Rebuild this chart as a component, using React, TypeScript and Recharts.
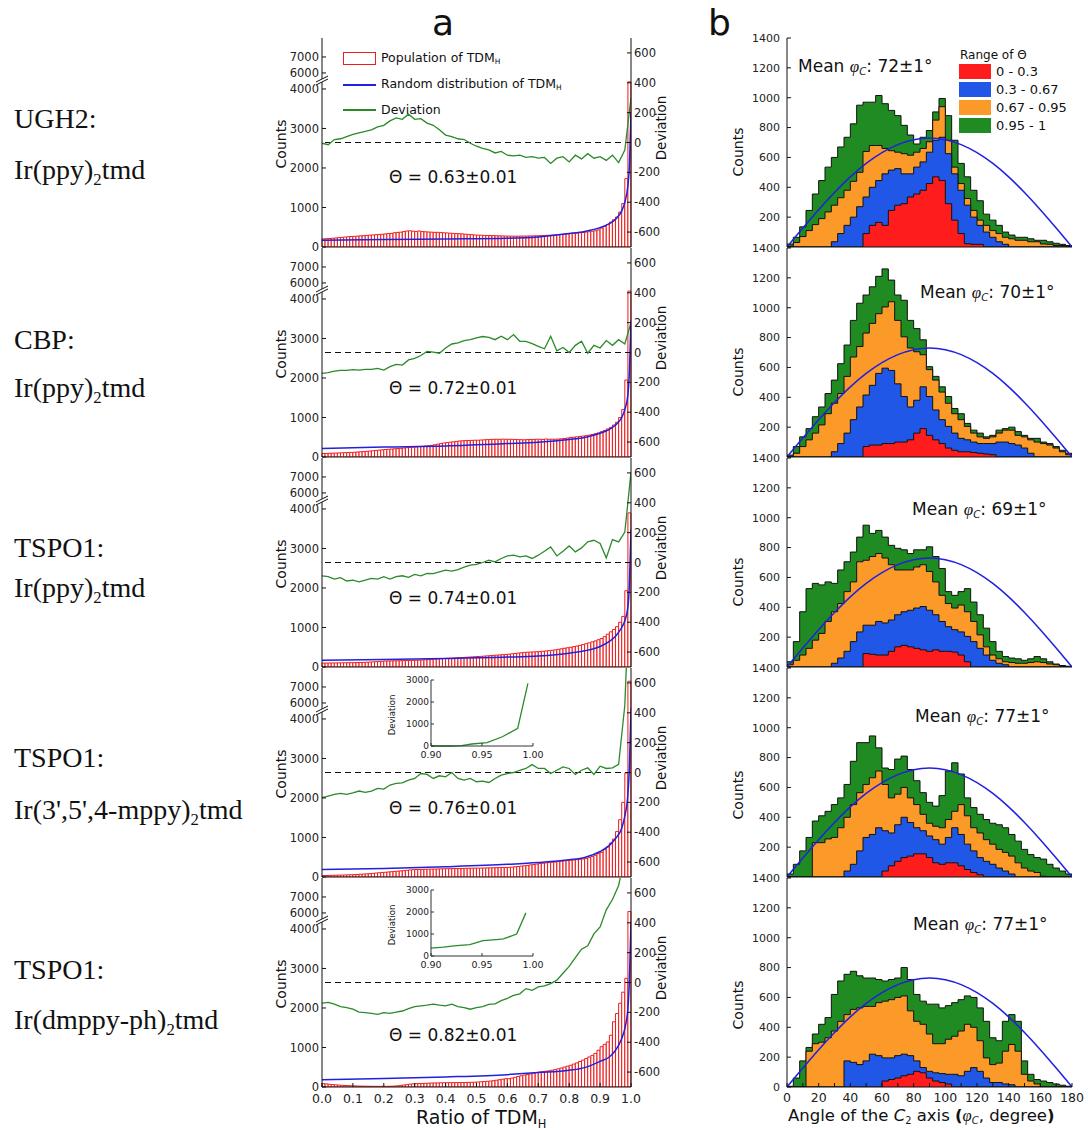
import React from "react";
import {
  ComposedChart,
  LineChart,
  Bar,
  Line,
  Area,
  XAxis,
  YAxis,
  ReferenceLine,
} from "recharts";

const FONT = "'DejaVu Sans', sans-serif";
const SERIF = "'Liberation Serif', 'Times New Roman', serif";

// ---- panel a: axes ----
const ratioTicks = [0, 0.1, 0.2, 0.3, 0.4, 0.5, 0.6, 0.7, 0.8, 0.9, 1.0];
const countTickValues = [0, 1000, 2000, 3000, 4000, 6000, 7000];
const devTicks = [-600, -400, -200, 0, 200, 400, 600];
const blueX = [0, 0.2, 0.4, 0.6, 0.7, 0.8, 0.85, 0.9, 0.93, 0.95, 0.97, 0.98, 0.99, 0.995, 1.0];

// ---- panel a: population of TDM_H (100 bins of 0.01) ----
const bars1 = [
  205, 210, 215, 222, 230, 238, 245, 252, 260, 265,
  270, 276, 282, 288, 294, 300, 306, 312, 318, 324,
  330, 340, 345, 360, 370, 375, 390, 405, 410, 400,
  395, 405, 390, 385, 380, 375, 370, 372, 365, 360,
  355, 350, 345, 340, 335, 330, 325, 318, 312, 305,
  300, 298, 295, 292, 290, 288, 285, 282, 280, 278,
  276, 275, 274, 275, 276, 277, 278, 280, 282, 284,
  286, 290, 294, 298, 302, 306, 312, 318, 324, 332,
  340, 346, 352, 360, 368, 376, 386, 398, 410, 430,
  480, 520, 570, 630, 690, 760, 880, 1100, 1730, 4180,
];
const bars2 = [
  90, 92, 95, 98, 100, 103, 106, 110, 113, 117,
  120, 126, 132, 138, 144, 150, 158, 166, 174, 182,
  190, 196, 202, 208, 214, 220, 228, 236, 244, 250,
  255, 262, 270, 278, 285, 295, 310, 325, 340, 355,
  365, 375, 385, 395, 405, 410, 415, 418, 420, 425,
  425, 430, 435, 440, 445, 448, 450, 448, 452, 450,
  450, 448, 445, 440, 438, 435, 440, 445, 445, 450,
  450, 445, 455, 450, 452, 450, 455, 460, 470, 480,
  495, 500, 510, 520, 530, 540, 555, 570, 590, 610,
  640, 670, 710, 750, 810, 880, 1000, 1200, 1950, 4200,
];
const bars3 = [
  100, 100, 102, 103, 104, 105, 106, 107, 108, 109,
  110, 112, 115, 118, 122, 126, 130, 135, 140, 145,
  150, 152, 154, 156, 158, 160, 162, 164, 166, 168,
  170, 174, 178, 182, 186, 192, 198, 204, 210, 215,
  220, 224, 228, 232, 236, 240, 245, 250, 255, 260,
  265, 270, 276, 282, 288, 294, 300, 306, 312, 318,
  325, 334, 343, 352, 361, 370, 374, 378, 382, 386,
  390, 398, 406, 414, 422, 435, 448, 460, 474, 487,
  500, 515, 530, 548, 566, 590, 612, 636, 660, 690,
  720, 770, 830, 890, 950, 1020, 1130, 1280, 1930, 3900,
];
const bars4 = [
  35, 38, 40, 42, 45, 48, 50, 52, 55, 58,
  60, 65, 70, 75, 80, 86, 92, 100, 108, 115,
  120, 127, 134, 141, 148, 155, 162, 170, 178, 185,
  190, 192, 194, 196, 198, 200, 202, 204, 206, 208,
  210, 212, 214, 215, 216, 218, 220, 222, 223, 224,
  225, 226, 228, 230, 232, 234, 236, 238, 240, 242,
  245, 250, 258, 266, 275, 285, 295, 305, 315, 328,
  340, 348, 356, 364, 372, 380, 390, 400, 408, 416,
  425, 432, 440, 448, 456, 470, 490, 520, 550, 590,
  625, 690, 760, 860, 960, 1150, 1450, 1890, 2630, 7360,
];
const bars5 = [
  85, 78, 70, 62, 55, 48, 42, 38, 34, 30,
  27, 25, 23, 21, 20, 19, 18, 17, 17, 17,
  17, 18, 20, 24, 30, 40, 50, 60, 72, 80,
  85, 88, 91, 94, 97, 100, 102, 104, 106, 108,
  110, 110, 111, 111, 112, 113, 114, 116, 118, 122,
  127, 132, 138, 144, 150, 160, 172, 185, 198, 210,
  210, 225, 245, 265, 285, 300, 315, 330, 350, 365,
  380, 390, 400, 410, 425, 440, 460, 480, 505, 528,
  550, 580, 610, 645, 680, 720, 760, 800, 850, 930,
  1020, 1080, 1140, 1310, 1650, 1860, 2120, 2400, 2750, 6090,
];

// ---- panel a: deviation, every 0.02 ----
const dev1 = [
  -5, -15, 20, 25, 40, 55, 65, 75, 85, 105, 115, 145, 165, 155, 190, 155, 160, 130, 115, 85,
  50, 40, 25, 20, -5, -25, -40, -50, -70, -60, -85, -90, -85, -100, -95, -105, -100, -140, -105, -95,
  -130, -85, -110, -75, -105, -95, -120, -85, -135, -50, 300,
];
const dev2 = [
  -140, -135, -125, -120, -120, -115, -118, -113, -113, -107, -118, -95, -80, -84, -50, -39, -20, 7, 2, -5,
  30, 57, 64, 80, 86, 98, 107, 102, 86, 109, 86, 120, 75, 75, 59, 41, 25, 109, 11, 34,
  0, 48, 75, -5, 48, 30, 80, 48, 86, 57, 200,
];
const dev3 = [
  -89, -95, -111, -102, -124, -118, -129, -118, -107, -111, -95, -111, -95, -89, -100, -80, -89, -73, -75, -62,
  -51, -58, -47, -31, -18, -13, 0, 15, 4, 27, 44, 49, 38, 44, 27, 49, 75, 104, 44, 75,
  111, 71, 98, 138, 149, 127, 31, 153, 138, 204, 604,
];
const dev4 = [
  -169, -158, -147, -140, -147, -136, -124, -133, -124, -107, -111, -84, -73, -69, -51, -40, -7, -13, -40, -22,
  -29, 0, -40, -51, -40, -62, -58, -67, -40, -18, -7, 0, 15, 27, 53, 27, 27, -7, 15, 38,
  27, -13, 15, 31, -13, 42, 27, 31, 55, 450, 1500,
];
const dev5 = [
  -138, -133, -145, -161, -168, -179, -198, -202, -207, -214, -202, -207, -198, -191, -175, -161, -156, -152, -145, -152,
  -156, -145, -161, -168, -179, -168, -161, -147, -143, -122, -106, -87, -76, -41, -53, -30, -23, -7, 16, 62,
  108, 166, 223, 246, 326, 372, 487, 556, 650, 850, 1200,
];

// ---- panel a: random distribution of TDM_H ----
const blue1 = [170, 190, 205, 222, 256, 340, 395, 490, 590, 700, 915, 1130, 1560, 2070, 3390];
const blue2 = [215, 250, 280, 340, 375, 445, 495, 600, 700, 810, 1000, 1200, 1580, 2180, 3460];
const blue3 = [170, 190, 215, 250, 280, 350, 410, 520, 650, 780, 1000, 1170, 1520, 2130, 3480];
const blue4 = [190, 215, 260, 320, 365, 435, 495, 645, 800, 975, 1235, 1540, 2100, 2800, 4280];
const blue5 = [186, 212, 254, 313, 364, 424, 490, 650, 760, 930, 1230, 1480, 1990, 2750, 4190];

// ---- insets ----
const insetXTicks = [0.9, 0.95, 1.0];
const insetYTicks = [0, 1000, 2000, 3000];
const inset4X = [0.9, 0.92, 0.93, 0.94, 0.955, 0.97, 0.985, 0.995];
const inset4Y = [0, 0, 20, 90, 150, 420, 800, 2850];
const inset5X = [0.9, 0.912, 0.925, 0.938, 0.951, 0.964, 0.971, 0.984, 0.993];
const inset5Y = [357, 400, 475, 520, 700, 745, 775, 1000, 1960];

const thetaLabels = ["0.63±0.01", "0.72±0.01", "0.74±0.01", "0.76±0.01", "0.82±0.01"];
const thetaY = [177, 388, 598, 808, 1035];

// ---- panel b: cumulative counts per 4° bin (Θ ≤ 0.3, ≤ 0.67, ≤ 0.95, ≤ 1) ----
const angleTicks = [0, 10, 20, 30, 40, 50, 60, 70, 80, 90, 100, 110, 120, 130, 140, 150, 160, 170, 180];
const countTicksB = [0, 200, 400, 600, 800, 1000, 1200, 1400];
const sineAngles = [0, 10, 20, 30, 40, 50, 60, 70, 80, 90, 100, 110, 120, 130, 140, 150, 160, 170, 180];
const sineCounts = [0, 127, 250, 365, 470, 560, 632, 686, 719, 730, 719, 686, 632, 560, 470, 365, 250, 127, 0];

const b1Red = [0,0,0,0,0,0,0,0,0,0,0,0,90,145,165,145,245,280,290,335,355,380,425,470,445,290,180,90,22,18,18,0,0,0,0,0,0,0,0,0,0,0,0,0,0];
const b1Blue = [0,0,0,0,0,0,0,35,90,145,200,270,335,400,445,490,515,525,490,490,535,570,635,715,735,625,490,380,280,200,145,100,65,35,18,0,0,0,0,0,0,0,0,0,0];
const b1Orange = [5,30,70,110,150,190,235,280,330,380,440,500,640,680,680,660,645,635,625,615,635,660,705,850,940,715,535,425,325,245,180,145,110,90,65,55,45,45,35,35,20,18,10,10,5];
const b1Green = [20,65,135,245,355,445,535,600,670,735,825,950,970,970,1015,960,915,880,815,750,690,735,780,905,995,880,715,560,470,380,310,220,180,145,100,80,65,65,55,45,45,35,25,18,10];

const b2Red = [0,0,0,0,0,0,0,0,0,0,0,0,70,80,80,90,90,100,100,115,160,190,145,115,90,60,45,35,35,30,25,20,15,0,0,0,0,0,0,0,0,0,0,0,0];
const b2Blue = [0,0,0,0,0,0,0,35,90,160,250,335,415,480,560,595,580,490,405,335,380,470,405,315,250,205,160,125,115,100,90,90,90,100,100,90,80,60,25,0,0,0,0,0,0];
const b2Orange = [0,25,70,115,160,215,290,360,425,540,670,740,830,895,960,1005,1040,915,805,730,705,685,585,515,435,360,290,250,205,160,135,125,135,160,180,180,145,135,115,100,90,80,60,35,15];
const b2Green = [13,70,135,190,270,335,425,515,625,750,915,1030,1085,1140,1210,1260,1185,1085,1050,915,860,785,605,540,470,405,325,290,225,180,160,135,145,180,190,200,170,145,125,125,100,90,70,45,25];

const b3Red = [0,0,0,0,0,0,0,0,0,0,0,0,90,85,80,80,105,135,145,135,125,115,105,115,105,105,100,80,35,0,0,0,0,0,0,0,0,0,0,0,0,0,0,0,0];
const b3Blue = [0,0,0,0,0,0,0,25,60,105,170,235,280,280,305,295,315,350,370,380,395,405,380,350,305,270,250,235,205,170,125,80,45,25,15,0,0,0,0,0,0,0,0,0,0];
const b3Orange = [15,45,80,125,180,225,305,370,425,505,570,705,715,740,760,730,685,650,650,650,670,685,640,570,480,425,395,415,370,305,215,135,80,55,35,30,25,25,30,35,30,20,15,5,2];
const b3Green = [35,170,370,525,560,550,570,560,650,705,770,870,950,895,915,870,815,795,785,760,785,785,805,740,660,505,480,505,525,435,350,260,170,105,70,60,55,45,55,70,55,35,20,10,5];

const b4Red = [0,0,0,0,0,0,0,0,0,0,0,0,0,0,0,40,75,105,130,140,155,155,130,95,85,95,95,75,50,30,15,0,0,0,0,0,0,0,0,0,0,0,0,0,0];
const b4Blue = [0,0,0,0,0,0,0,0,0,40,85,175,265,285,330,310,295,350,400,365,330,310,275,250,220,265,330,285,220,175,130,105,85,60,40,20,0,0,0,0,0,0,0,0,0];
const b4Orange = [0,0,0,0,230,230,255,265,330,400,485,565,620,665,710,620,530,555,600,530,485,420,360,340,330,385,440,485,410,330,295,250,220,185,165,140,95,60,40,30,5,0,0,0,0];
const b4Green = [20,85,175,265,375,410,440,485,530,620,775,900,900,945,865,730,720,790,810,720,645,565,500,475,545,710,765,690,530,465,420,385,360,350,330,285,240,185,150,130,120,85,60,40,20];

const b5Red = [0,0,0,0,0,0,0,0,0,0,0,0,0,0,0,40,50,60,75,85,105,95,60,40,30,20,0,0,0,0,0,0,0,0,0,0,0,0,0,0,0,0,0,0,0];
const b5Blue = [0,0,0,0,0,0,0,0,0,175,165,150,175,220,210,195,195,210,220,210,175,130,105,95,90,85,85,75,105,130,105,60,30,30,20,15,0,0,0,0,0,0,0,0,0];
const b5Orange = [0,0,0,240,290,300,330,375,440,485,520,530,540,540,565,575,585,600,610,510,440,420,355,290,290,320,340,375,420,400,310,195,150,160,240,285,240,85,40,20,0,0,0,0,0];
const b5Green = [5,60,175,265,355,420,465,620,710,755,775,745,730,730,720,710,720,730,800,720,620,575,555,555,530,545,565,585,610,600,530,440,330,310,440,485,440,175,85,50,40,30,20,12,5];

const meanLabels = ["72±1°", "70±1°", "69±1°", "77±1°", "77±1°"];
const meanPos = [[798, 67], [920, 293], [912, 510], [915, 717], [913, 925]];
const rangeLabels = ["0 - 0.3", "0.3 - 0.67", "0.67 - 0.95", "0.95 - 1"];

const hostNames = ["UGH2:", "CBP:", "TSPO1:", "TSPO1:", "TSPO1:"];
const emitterNames = ["Ir(ppy)", "Ir(ppy)", "Ir(ppy)", "Ir(3',5',4-mppy)", "Ir(dmppy-ph)"];
const hostY = [119, 340, 548, 758, 970];
const emitterY = [172, 390, 590, 812, 1022];

const RED = "#ee1c1c";
const BLUE = "#2020e0";
const GREEN = "#2a8a2a";
const FILL_RED = "#ff1c1c";
const FILL_BLUE = "#2157e6";
const FILL_ORANGE = "#fb9a28";
const FILL_GREEN = "#1f8b22";
const AXIS = "#111";

const tickFont = { fontSize: 11.5, fill: "#222", fontFamily: FONT };

// broken counts axis: linear up to the break, compressed above 6000
const toDisplay = (v: number) =>
  v <= 4300 ? v : Math.max(4300, 4405 + (v - 6000) * 0.405);
const countDisplayTicks = countTickValues.map(toDisplay);
const countLabel = (d: number) => {
  const k = countDisplayTicks.findIndex((t) => Math.abs(t - d) < 1);
  return k >= 0 ? String(countTickValues[k]) : "";
};

const Sub = ({ children }: any) => (
  <span style={{ fontSize: "0.6em", verticalAlign: "-0.35em" }}>{children}</span>
);

const Txt = ({ x, y, size, children, style }: any) => (
  <div
    style={{
      position: "absolute",
      left: x,
      top: y,
      transform: "translateY(-50%)",
      fontSize: size,
      lineHeight: 1.2,
      whiteSpace: "nowrap",
      ...style,
    }}
  >
    {children}
  </div>
);

const RotText = ({ x, y, size, children }: any) => (
  <div
    style={{
      position: "absolute",
      left: x,
      top: y,
      transform: "translate(-50%,-50%) rotate(-90deg)",
      fontSize: size,
      lineHeight: 1.2,
      whiteSpace: "nowrap",
    }}
  >
    {children}
  </div>
);

function PanelA({ row, bars, dev, blue, last }: any) {
  const data = bars.map((v: number, k: number) => ({ bin: k, v: toDisplay(v) }));
  const devData = dev.map((d: number, k: number) => ({ x: Math.round(k * 2) / 100, d }));
  const blueData = blueX.map((x, k) => ({ x, c: blue[k] }));
  return (
    <div style={{ position: "absolute", left: 270, top: 28 + 210 * row }}>
      <ComposedChart
        width={400}
        height={244}
        data={data}
        margin={{ top: 10, right: 9, bottom: 0, left: 12 }}
        barCategoryGap={0}
        barGap={0}
      >
        <XAxis
          xAxisId="num"
          dataKey="x"
          type="number"
          domain={[0, 1]}
          ticks={ratioTicks}
          interval={0}
          allowDataOverflow
          height={25}
          stroke={AXIS}
          tickSize={-4}
          tickMargin={11}
          tick={last ? { ...tickFont, fontSize: 12.5 } : false}
          tickFormatter={(v: number) => v.toFixed(1)}
        />
        <XAxis xAxisId="cat" dataKey="bin" type="category" hide height={0} />
        <XAxis
          xAxisId="top"
          orientation="top"
          type="number"
          domain={[0, 1]}
          ticks={ratioTicks}
          interval={0}
          allowDataOverflow
          height={0}
          tick={false}
          tickSize={-4}
          stroke={AXIS}
        />
        <YAxis
          yAxisId="cnt"
          domain={[0, 5290]}
          ticks={countDisplayTicks}
          interval={0}
          allowDataOverflow
          width={40}
          tickSize={-4}
          tickMargin={7}
          tick={tickFont}
          stroke={AXIS}
          tickFormatter={countLabel}
        />
        <YAxis
          yAxisId="dev"
          orientation="right"
          domain={[-700, 700]}
          ticks={devTicks}
          interval={0}
          allowDataOverflow
          width={30}
          tickSize={-4}
          tickMargin={7}
          tick={tickFont}
          stroke={AXIS}
        />
        <Bar
          xAxisId="cat"
          yAxisId="cnt"
          dataKey="v"
          fill="#fff"
          stroke={RED}
          strokeWidth={1}
          isAnimationActive={false}
        />
        <ReferenceLine
          xAxisId="num"
          yAxisId="dev"
          y={0}
          stroke="#111"
          strokeWidth={1.2}
          strokeDasharray="6 4"
        />
        <Line
          xAxisId="num"
          yAxisId="dev"
          data={devData}
          dataKey="d"
          type="linear"
          stroke={GREEN}
          strokeWidth={1.3}
          dot={false}
          isAnimationActive={false}
        />
        <Line
          xAxisId="num"
          yAxisId="cnt"
          data={blueData}
          dataKey="c"
          type="monotone"
          stroke={BLUE}
          strokeWidth={1.5}
          dot={false}
          isAnimationActive={false}
        />
      </ComposedChart>
    </div>
  );
}

function Inset({ top, xs, ys }: any) {
  const data = xs.map((x: number, k: number) => ({ x, y: ys[k] }));
  return (
    <div style={{ position: "absolute", left: 380, top }}>
      <LineChart width={172} height={92} data={data} margin={{ top: 8, right: 19, bottom: 0, left: 14 }}>
        <XAxis
          dataKey="x"
          type="number"
          domain={[0.9, 1]}
          ticks={insetXTicks}
          interval={0}
          height={18}
          tickSize={-3}
          tickMargin={8}
          stroke="#333"
          tick={{ ...tickFont, fontSize: 9.5 }}
          tickFormatter={(v: number) => v.toFixed(2)}
        />
        <XAxis xAxisId="t" orientation="top" type="number" domain={[0.9, 1]} height={0} tick={false} tickLine={false} stroke="#333" />
        <YAxis
          domain={[0, 3000]}
          ticks={insetYTicks}
          interval={0}
          width={37}
          tickSize={-3}
          tickMargin={5}
          stroke="#333"
          tick={{ ...tickFont, fontSize: 9 }}
        />
        <YAxis yAxisId="r" orientation="right" domain={[0, 3000]} width={0} tick={false} tickLine={false} stroke="#333" />
        <Line dataKey="y" type="linear" stroke={GREEN} strokeWidth={1.3} dot={false} isAnimationActive={false} />
      </LineChart>
    </div>
  );
}

function PanelB({ row, layers, last }: any) {
  const [red, blue, orange, green] = layers;
  const data = green.map((g: number, k: number) => ({ a: k * 4, r: red[k], b: blue[k], o: orange[k], g }));
  data.push({ a: 180, r: 0, b: 0, o: 0, g: 0 });
  const sine = sineAngles.map((a, k) => ({ a, s: sineCounts[k] }));
  const areas = [
    ["g", FILL_GREEN],
    ["o", FILL_ORANGE],
    ["b", FILL_BLUE],
    ["r", FILL_RED],
  ];
  return (
    <div style={{ position: "absolute", left: 740, top: 28 + 210 * row }}>
      <ComposedChart width={348} height={244} data={data} margin={{ top: 10, right: 16, bottom: 0, left: 7 }}>
        <XAxis
          xAxisId="ang"
          dataKey="a"
          type="number"
          domain={[0, 180]}
          ticks={angleTicks}
          interval={0}
          allowDataOverflow
          height={25}
          stroke={AXIS}
          tickSize={-4}
          tickMargin={10}
          tick={last ? { ...tickFont, fontSize: 12.5 } : false}
          tickFormatter={(v: number) => (v % 20 === 0 ? String(v) : "")}
        />
        <XAxis
          xAxisId="top"
          orientation="top"
          type="number"
          domain={[0, 180]}
          ticks={angleTicks}
          interval={0}
          allowDataOverflow
          height={0}
          tick={false}
          tickSize={-4}
          stroke={AXIS}
        />
        <YAxis
          yAxisId="c"
          domain={[0, 1400]}
          ticks={countTicksB}
          interval={0}
          allowDataOverflow
          width={40}
          tickSize={-4}
          tickMargin={11}
          tick={{ ...tickFont, fontSize: 11 }}
          stroke={AXIS}
          tickFormatter={(v: number) => (v === 0 && !last ? "" : String(v))}
        />
        <YAxis
          yAxisId="r"
          orientation="right"
          domain={[0, 1400]}
          ticks={countTicksB}
          interval={0}
          width={0}
          tick={false}
          tickSize={-4}
          stroke={AXIS}
        />
        {areas.map(([key, color]) => (
          <Area
            key={key}
            xAxisId="ang"
            yAxisId="c"
            type="stepAfter"
            dataKey={key}
            fill={color}
            fillOpacity={1}
            stroke="#111"
            strokeWidth={1}
            isAnimationActive={false}
          />
        ))}
        <Line
          xAxisId="ang"
          yAxisId="c"
          data={sine}
          dataKey="s"
          type="monotone"
          stroke={BLUE}
          strokeWidth={1.5}
          dot={false}
          isAnimationActive={false}
        />
      </ComposedChart>
    </div>
  );
}

const panelsA = [
  [bars1, dev1, blue1],
  [bars2, dev2, blue2],
  [bars3, dev3, blue3],
  [bars4, dev4, blue4],
  [bars5, dev5, blue5],
];
const panelsB = [
  [b1Red, b1Blue, b1Orange, b1Green],
  [b2Red, b2Blue, b2Orange, b2Green],
  [b3Red, b3Blue, b3Orange, b3Green],
  [b4Red, b4Blue, b4Orange, b4Green],
  [b5Red, b5Blue, b5Orange, b5Green],
];

export default function App() {
  return (
    <div
      style={{
        position: "absolute",
        left: 0,
        top: 0,
        width: 1088,
        height: 1130,
        background: "#fff",
        fontFamily: FONT,
        color: "#111",
        overflow: "hidden",
      }}
    >
      {/* sample names */}
      {hostNames.map((h, i) => (
        <React.Fragment key={"h" + i}>
          <Txt x={14} y={hostY[i]} size={28} style={{ fontFamily: SERIF }}>{h}</Txt>
          <Txt x={14} y={emitterY[i]} size={28} style={{ fontFamily: SERIF }}>
            {emitterNames[i]}
            <Sub>2</Sub>tmd
          </Txt>
        </React.Fragment>
      ))}

      <Txt x={432} y={23} size={36}>a</Txt>
      <Txt x={708} y={23} size={36}>b</Txt>

      {panelsA.map(([bars, dev, blue], i) => (
        <PanelA key={"a" + i} row={i} bars={bars} dev={dev} blue={blue} last={i === 4} />
      ))}
      {panelsB.map((layers, i) => (
        <PanelB key={"b" + i} row={i} layers={layers} last={i === 4} />
      ))}

      <Inset top={672} xs={inset4X} ys={inset4Y} />
      <Inset top={882} xs={inset5X} ys={inset5Y} />
      <RotText x={392} y={715} size={8.5}>Deviation</RotText>
      <RotText x={392} y={925} size={8.5}>Deviation</RotText>

      {/* axis break marks */}
      {[0, 1, 2, 3, 4].map((i) => (
        <svg
          key={"brk" + i}
          width={14}
          height={12}
          style={{ position: "absolute", left: 315, top: 73 + 210 * i }}
        >
          <polygon points="0,9 14,3 14,6 0,12" fill="#fff" />
          <line x1={1} y1={9} x2={13} y2={3} stroke="#111" strokeWidth={1} />
          <line x1={1} y1={12} x2={13} y2={6} stroke="#111" strokeWidth={1} />
        </svg>
      ))}

      {/* panel a labels */}
      {[0, 1, 2, 3, 4].map((i) => (
        <React.Fragment key={"al" + i}>
          <RotText x={281} y={144 + 210 * i} size={14}>Counts</RotText>
          <RotText x={661} y={128 + 210 * i} size={13.5}>Deviation</RotText>
          <Txt x={389} y={thetaY[i]} size={17}>Θ = {thetaLabels[i]}</Txt>
        </React.Fragment>
      ))}
      <Txt x={416} y={1119} size={19} style={{ lineHeight: 1 }}>
        Ratio of TDM<Sub>H</Sub>
      </Txt>

      {/* panel a legend */}
      <div
        style={{
          position: "absolute",
          left: 343,
          top: 52,
          width: 33,
          height: 13,
          border: `1.5px solid ${RED}`,
          boxSizing: "border-box",
        }}
      />
      <Txt x={381} y={58} size={12.5}>Population of TDM<Sub>H</Sub></Txt>
      <div style={{ position: "absolute", left: 343, top: 84, width: 33, height: 1.6, background: BLUE }} />
      <Txt x={381} y={84} size={12.5}>Random distribution of TDM<Sub>H</Sub></Txt>
      <div style={{ position: "absolute", left: 343, top: 109, width: 33, height: 1.6, background: GREEN }} />
      <Txt x={381} y={109} size={12.5}>Deviation</Txt>

      {/* panel b labels */}
      {[152, 372, 582, 795, 1005].map((y, i) => (
        <RotText key={"bc" + i} x={738} y={y} size={14}>Counts</RotText>
      ))}
      {meanLabels.map((m, i) => (
        <Txt key={"m" + i} x={meanPos[i][0]} y={meanPos[i][1]} size={17}>
          Mean <span style={{ fontFamily: SERIF, fontStyle: "italic" }}>φ</span>
          <Sub><i>C</i></Sub>: {m}
        </Txt>
      ))}
      <Txt x={788} y={1117} size={16.5} style={{ lineHeight: 1 }}>
        Angle of the <i>C</i>
        <Sub>2</Sub> axis <b>(</b>
        <span style={{ fontFamily: SERIF, fontStyle: "italic" }}>φ</span>
        <Sub><i>C</i></Sub>, degree<b>)</b>
      </Txt>

      {/* panel b legend */}
      <Txt x={960} y={55} size={12}>Range of Θ</Txt>
      {[FILL_RED, FILL_BLUE, FILL_ORANGE, FILL_GREEN].map((c, k) => (
        <React.Fragment key={"lg" + k}>
          <div
            style={{
              position: "absolute",
              left: 959,
              top: 64 + 18 * k,
              width: 32,
              height: 15,
              background: c,
            }}
          />
          <Txt x={996} y={72 + 18 * k} size={13}>{rangeLabels[k]}</Txt>
        </React.Fragment>
      ))}
    </div>
  );
}
